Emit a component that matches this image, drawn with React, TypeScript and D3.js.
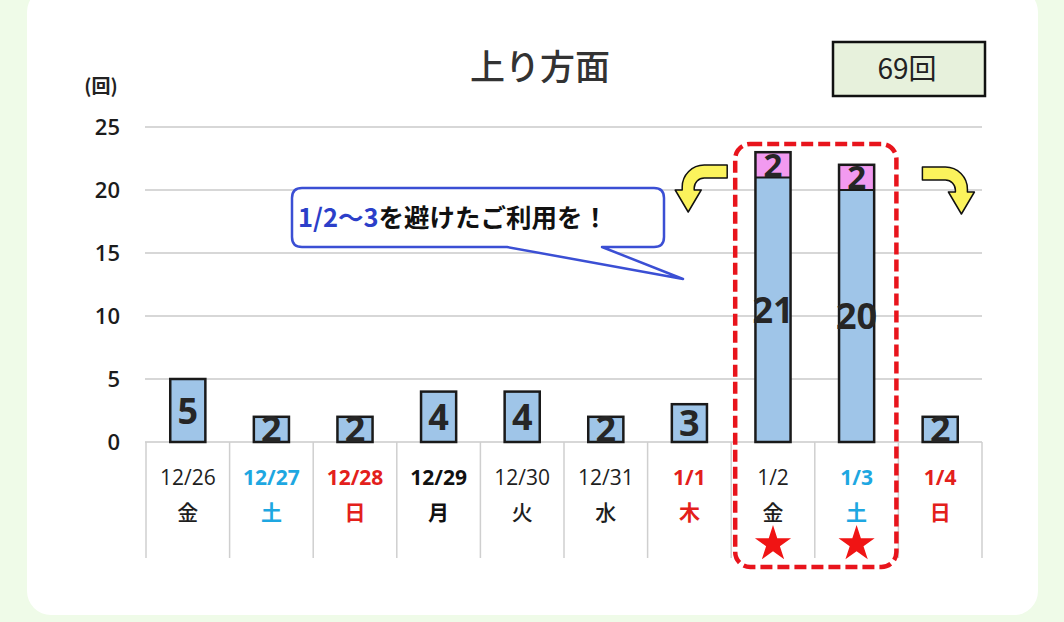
import * as d3 from "d3";

const dates = ["12/26", "12/27", "12/28", "12/29", "12/30", "12/31", "1/1", "1/2", "1/3", "1/4"];
const weekdays = ["金", "土", "日", "月", "火", "水", "木", "金", "土", "日"];
// kind of day: plain weekday, saturday, sunday/holiday, bold weekday
const dayKinds = ["plain", "sat", "sun", "bold", "plain", "plain", "sun", "plain", "sat", "sun"];
const baseCounts = [5, 2, 2, 4, 4, 2, 3, 21, 20, 2];
const extraCounts = [0, 0, 0, 0, 0, 0, 0, 2, 2, 0];
const peakDays = ["1/2", "1/3"];
const yTicks = [0, 5, 10, 15, 20, 25];
const title = "上り方面";
const totalLabel = "69回";
const unitLabel = "(回)";

const W = 1064;
const H = 622;
const PLOT = { left: 146, right: 982, top: 127, bottom: 442 };
const TABLE_BOTTOM = 558;

const JP = "'Noto Sans CJK JP', 'Noto Sans', sans-serif";
const NUM = "'Open Sans', 'Noto Sans', sans-serif";

const kindColor: Record<string, string> = {
  plain: "#1e1e1e",
  bold: "#111111",
  sat: "#1ea7e1",
  sun: "#e3201b",
};

export default function App() {
  const x = d3.scaleBand<string>().domain(dates).range([PLOT.left, PLOT.right]).paddingInner(0.58).paddingOuter(0.29);
  const col = d3.scaleBand<string>().domain(dates).range([PLOT.left, PLOT.right]);
  const y = d3.scaleLinear().domain([0, 25]).range([PLOT.bottom, PLOT.top]);

  const stacked = dates.map((d, i) => ({
    date: d,
    base: baseCounts[i],
    extra: extraCounts[i],
  }));

  const star = d3.symbol().type(d3.symbolStar).size(405)();

  // dashed frame around the peak days
  const boxX0 = (col(peakDays[0]) ?? 0) + 4;
  const boxX1 = (col(peakDays[1]) ?? 0) + col.bandwidth() - 2;

  // bent yellow arrow (left one), mirrored for the right
  const ax = boxX0 - 8;
  const arrow = `M${ax},165 L${ax - 23},165 A22,22 0 0 0 ${ax - 45},187 L${ax - 45},190 L${ax - 52},190 L${ax - 39},212 L${ax - 26},190 L${ax - 33},190 L${ax - 33},188 A10,10 0 0 1 ${ax - 23},178 L${ax},178 Z`;
  const mirrorX = ax + boxX1 + 26;

  return (
    <svg width={W} height={H} style={{ position: "absolute", left: 0, top: 0, display: "block" }}>
      <rect x={0} y={0} width={W} height={H} fill="#effbe8" />
      <rect x={27} y={-12} width={1011} height={627} rx={24} fill="#ffffff" />

      {/* title & total */}
      <text x={540} y={80} textAnchor="middle" fontFamily={JP} fontSize={35} fontWeight={500} fill="#333">
        {title}
      </text>
      <rect x={833} y={42} width={152} height={54} fill="#e7f1dc" stroke="#111" strokeWidth={2.5} />
      <text x={907} y={79} textAnchor="middle" fontFamily={JP} fontSize={28} fill="#222">
        {totalLabel}
      </text>
      <text x={101} y={93} textAnchor="middle" fontFamily={JP} fontSize={19} fontWeight={700} fill="#222">
        {unitLabel}
      </text>

      {/* grid */}
      {yTicks.map((t) => (
        <g key={t}>
          <line x1={PLOT.left - 1} x2={PLOT.right} y1={y(t)} y2={y(t)} stroke="#cacaca" strokeWidth={1.5} />
          <text x={120} y={y(t) + 8} textAnchor="end" fontFamily={NUM} fontSize={22} fontWeight={600} fill="#1c1c1c">
            {t}
          </text>
        </g>
      ))}

      {/* table under the axis */}
      {[...dates.map((d) => col(d) ?? 0), PLOT.right].map((vx, i) => (
        <line key={i} x1={vx} x2={vx} y1={PLOT.bottom} y2={TABLE_BOTTOM} stroke="#cfcfcf" strokeWidth={1.5} />
      ))}
      {dates.map((d, i) => {
        const cx = (col(d) ?? 0) + col.bandwidth() / 2;
        const kind = dayKinds[i];
        const bold = kind !== "plain";
        return (
          <g key={d}>
            <text x={cx} y={485} textAnchor="middle" fontFamily={NUM} fontSize={21} fontWeight={bold ? 700 : 400} fill={kindColor[kind]}>
              {d}
            </text>
            <text x={cx} y={520} textAnchor="middle" fontFamily={JP} fontSize={21} fontWeight={bold ? 700 : 500} fill={kindColor[kind]}>
              {weekdays[i]}
            </text>
            {peakDays.includes(d) && <path d={star ?? ""} transform={`translate(${cx},544)`} fill="#f01414" />}
          </g>
        );
      })}

      {/* bars */}
      {stacked.map((s) => {
        const bx = x(s.date) ?? 0;
        const bw = x.bandwidth();
        const cx = bx + bw / 2;
        const baseTop = y(s.base);
        const top = y(s.base + s.extra);
        return (
          <g key={s.date}>
            <rect x={bx} y={baseTop} width={bw} height={y(0) - baseTop} fill="#9fc5e8" />
            {s.extra > 0 && <rect x={bx} y={top} width={bw} height={baseTop - top} fill="#f29af0" />}
            {s.extra > 0 && <line x1={bx} x2={bx + bw} y1={baseTop} y2={baseTop} stroke="#1a1a1a" strokeWidth={2} />}
            <rect x={bx} y={top} width={bw} height={y(0) - top} fill="none" stroke="#1a1a1a" strokeWidth={2.5} />
            <text x={cx} y={(baseTop + y(0)) / 2 + 13} textAnchor="middle" fontFamily={NUM} fontSize={36} fontWeight={700} fill="#262626">
              {s.base}
            </text>
            {s.extra > 0 && (
              <text x={cx} y={(top + baseTop) / 2 + 12} textAnchor="middle" fontFamily={NUM} fontSize={33} fontWeight={700} fill="#262626">
                {s.extra}
              </text>
            )}
          </g>
        );
      })}

      {/* dashed highlight */}
      <rect x={boxX0} y={144} width={boxX1 - boxX0} height={567 - 144} rx={15} fill="none" stroke="#e8141c" strokeWidth={4.5} strokeDasharray="12 5" />

      {/* arrows */}
      <path d={arrow} fill="#fbf35c" stroke="#111" strokeWidth={1.5} strokeLinejoin="round" />
      <path d={arrow} transform={`translate(${mirrorX},2) scale(-1,1)`} fill="#fbf35c" stroke="#111" strokeWidth={1.5} strokeLinejoin="round" />

      {/* callout */}
      <path
        d="M302,188 L654,188 Q664,188 664,198 L664,237 Q664,247 654,247 L602,247 L683,279 L507,247 L302,247 Q292,247 292,237 L292,198 Q292,188 302,188 Z"
        fill="#ffffff"
        stroke="#3b4fd4"
        strokeWidth={2.5}
        strokeLinejoin="round"
      />
      <text x={298} y={227} fontFamily={JP} fontSize={25.5} fontWeight={700} fill="#111">
        <tspan fill="#2c3fc9">1/2〜3</tspan>
        <tspan>を避けたご利用を！</tspan>
      </text>
    </svg>
  );
}
